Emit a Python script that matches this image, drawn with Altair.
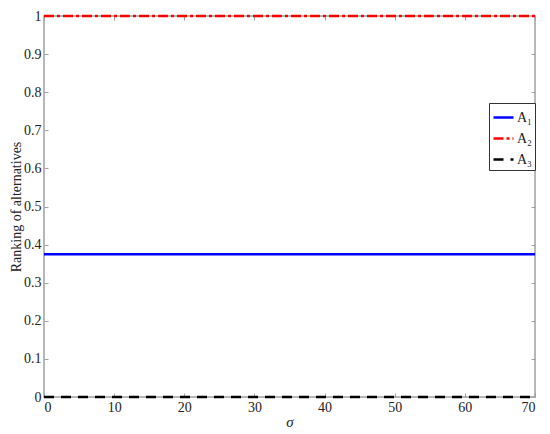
import altair as alt
import pandas as pd

sigma = [0, 10, 20, 30, 40, 50, 60, 70]
names = ["A₁", "A₂", "A₃"]
a1 = [0.375] * 8
a2 = [1.0] * 8
a3 = [0.0] * 8
colors = ["#0000ff", "#ff0000", "#000000"]
dashes = [[1, 0], [10, 3, 3, 3], [10, 7]]

rows = []
for n, vals in zip(names, [a1, a2, a3]):
    for s, v in zip(sigma, vals):
        rows.append({"sigma": s, "rank": v, "alt": n})
df = pd.DataFrame(rows)

FONT = "Liberation Serif"
GRAY = "#a0a0a0"
xs = alt.Scale(domain=[0, 70], nice=False, zero=False)
ys = alt.Scale(domain=[0, 1], nice=False, zero=False)

lines = alt.Chart(df).mark_line(strokeWidth=2.5, clip=False).encode(
    x=alt.X("sigma:Q", scale=xs, axis=alt.Axis(
        orient="bottom", values=list(range(0, 71, 10)), title="σ",
        titleFontStyle="italic", titleFontWeight="normal", titleFont=FONT, titleFontSize=15,
        labelFont=FONT, labelFontSize=14, labelColor="#222", titleColor="#222",
        domain=False, offset=-4, tickSize=4, tickColor=GRAY, labelPadding=3,
        titlePadding=0, grid=False)),
    y=alt.Y("rank:Q", scale=ys, axis=alt.Axis(
        orient="left", values=[i / 10 for i in range(11)], format="~g",
        title="Ranking of alternatives", titleFont=FONT, titleFontSize=14,
        titleFontWeight="normal", labelFont=FONT, labelFontSize=14,
        labelColor="#222", titleColor="#222", domain=False, offset=-4,
        tickSize=4, tickColor=GRAY, labelPadding=3, titlePadding=0, grid=False)),
    color=alt.Color("alt:N", scale=alt.Scale(domain=names, range=colors), title=None,
                    legend=alt.Legend(orient="none", legendX=445, legendY=87,
                                      symbolType="stroke", symbolStrokeWidth=2.5,
                                      symbolSize=400, labelFont=FONT, labelFontSize=14,
                                      labelColor="#222", strokeColor="#333",
                                      fillColor="white", padding=3, rowPadding=2,
                                      labelOffset=2, cornerRadius=0)),
    strokeDash=alt.StrokeDash("alt:N", scale=alt.Scale(domain=names, range=dashes),
                              title=None),
)

ticks2 = alt.Chart(df).mark_line(opacity=0).encode(
    x=alt.X("sigma:Q", scale=xs, axis=alt.Axis(
        orient="top", values=list(range(0, 71, 10)), labels=False, title=None,
        domain=False, offset=-4, tickSize=4, tickColor=GRAY, grid=False)),
    y=alt.Y("rank:Q", scale=ys, axis=alt.Axis(
        orient="right", values=[i / 10 for i in range(11)], labels=False, title=None,
        domain=False, offset=-4, tickSize=4, tickColor=GRAY, grid=False)),
)

chart = alt.layer(lines, ticks2).resolve_scale(x="independent", y="independent").properties(
    width=491, height=381,
    autosize=alt.AutoSizeParams(type="none"),
    padding={"left": 36, "top": 8, "right": 5, "bottom": 35},
).configure(background="white", font=FONT).configure_view(
    stroke=GRAY, strokeWidth=1.5
).configure_axis(labelFont=FONT, titleFont=FONT)

chart.save("out.html", embed_options={"renderer": "svg", "actions": False})
